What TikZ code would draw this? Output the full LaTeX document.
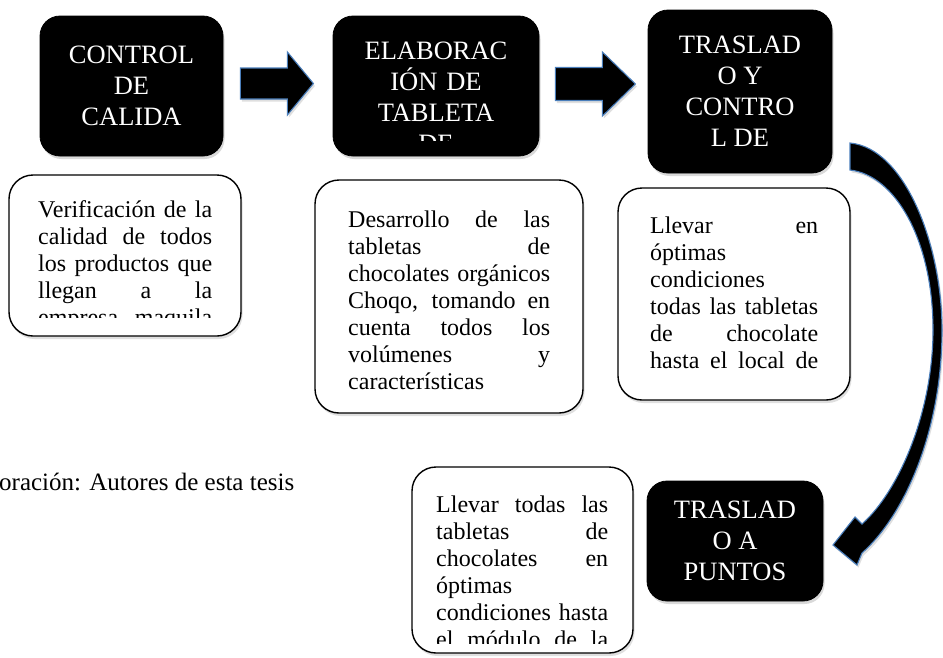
\documentclass[tikz,border=0pt]{standalone}
\usepackage{fontspec}
\setmainfont{Liberation Serif}
\usetikzlibrary{calc,shadows}
\definecolor{flecha}{HTML}{4A7EBB}
\newcommand{\titlefont}{\fontsize{26.5}{31}\selectfont}
\newcommand{\notefont}{\fontsize{24}{27}\selectfont\tolerance=10000\hyphenpenalty=10000}
\tikzset{
  titlebox/.style={draw=black, fill=black, rounded corners=20pt, line width=0.8pt,
                   text=white, align=center, font=\titlefont, inner sep=0pt,
                   drop shadow={shadow xshift=1.5pt, shadow yshift=-3pt, opacity=0.3}},
  titletext/.style={text=white, align=center, font=\titlefont, inner sep=0pt, anchor=base},
  notebox/.style={draw=black, fill=white, rounded corners=24pt, line width=1.4pt,
                  drop shadow={shadow xshift=1.5pt, shadow yshift=-3pt, opacity=0.25}},
  notetext/.style={text width=#1, align=justify, font=\notefont, inner sep=0pt, anchor=base west},
  blockarrow/.style={fill=black, draw=flecha, line width=1.1pt,
                     drop shadow={shadow xshift=1.5pt, shadow yshift=-2.5pt, opacity=0.25}}
}

\begin{document}
\begin{tikzpicture}[x=1pt, y=-1pt]
  \useasboundingbox (0,0) rectangle (943,657);

  % cabeceras negras
  \node[titlebox, minimum width=183pt, minimum height=140pt] (calidad) at (131.5,86) {CONTROL\\DE\\CALIDA};
  \node[titlebox, minimum width=206pt, minimum height=140pt] (elabora) at (436,86) {};
  \begin{scope}
    \clip (333,16) rectangle (539,140);
    \node[titletext, text width=206pt] (elaboratxt) at (436,59) {ELABORAC\\IÓN DE\\TABLETA\\DE};
  \end{scope}
  \node[titlebox, minimum width=184pt, minimum height=163pt] (traslado) at (740,91.5) {TRASLAD\\O Y\\CONTRO\\L DE};
  \node[titlebox, minimum width=176pt, minimum height=120pt] (puntos) at (735,541) {TRASLAD\\O A\\PUNTOS};

  % flechas de bloque
  \coordinate (flechaA) at ($(calidad.east)+(17,-2.5)$);
  \draw[blockarrow] (flechaA) ++(0,-15.5) -- ++(47,0) -- ++(0,-16) -- ++(26,31.5)
    -- ++(-26,31.5) -- ++(0,-16) -- ++(-47,0) -- cycle;
  \coordinate (flechaB) at ($(elabora.east)+(16,-2)$);
  \draw[blockarrow] (flechaB) ++(0,-16.5) -- ++(47,0) -- ++(0,-15.5) -- ++(33,32)
    -- ++(-33,32) -- ++(0,-15.5) -- ++(-47,0) -- cycle;
  % flecha curva hacia el ultimo paso
  \draw[blockarrow] (850,143) .. controls (905,148) and (942,245) .. (942,330)
    .. controls (942,430) and (905,515) .. (862,553) -- (857,565) -- (833,545)
    -- (855,517) -- (862,524) .. controls (900,490) and (933,410) .. (933,330)
    .. controls (933,240) and (895,175) .. (850,170) -- cycle;

  % cuadros de texto
  \node[notebox, minimum width=232pt, minimum height=161pt] (verifica) at (125,255.5) {};
  \begin{scope}
    \clip (9,175) rectangle (241,317);
    \node[notetext=174pt] (verificatxt) at (38,217) {Verificación de la\linebreak
      calidad de todos\linebreak los productos que\linebreak llegan a la\linebreak
      empresa maquila\linebreak};
  \end{scope}

  \node[notebox, minimum width=268pt, minimum height=233pt] (desarrollo) at (449,296.5) {};
  \node[notetext=202pt] (desarrollotxt) at (348,227) {Desarrollo de las\linebreak
    tabletas de\linebreak chocolates orgánicos\linebreak Choqo, tomando en\linebreak
    cuenta todos los\linebreak volúmenes y\linebreak características};

  \node[notebox, minimum width=232pt, minimum height=212pt] (llevar) at (734,294) {};
  \node[notetext=168pt] (llevartxt) at (650,233) {Llevar en\linebreak óptimas\linebreak
    condiciones\linebreak todas las tabletas\linebreak de chocolate\linebreak
    hasta el local de\linebreak};

  \node[notebox, minimum width=221pt, minimum height=186pt] (modulo) at (522.5,560) {};
  \begin{scope}
    \clip (412,467) rectangle (633,643);
    \node[notetext=172pt] (modulotxt) at (436,512) {Llevar todas las\linebreak
      tabletas de\linebreak chocolates en\linebreak óptimas\linebreak
      condiciones hasta\linebreak el módulo de la\linebreak};
  \end{scope}

  % fuente
  \node[anchor=base west, inner sep=0pt, font=\fontsize{25}{28}\selectfont] (fuente) at (-1,490) {oración: Autores de esta tesis};
\end{tikzpicture}
\end{document}
